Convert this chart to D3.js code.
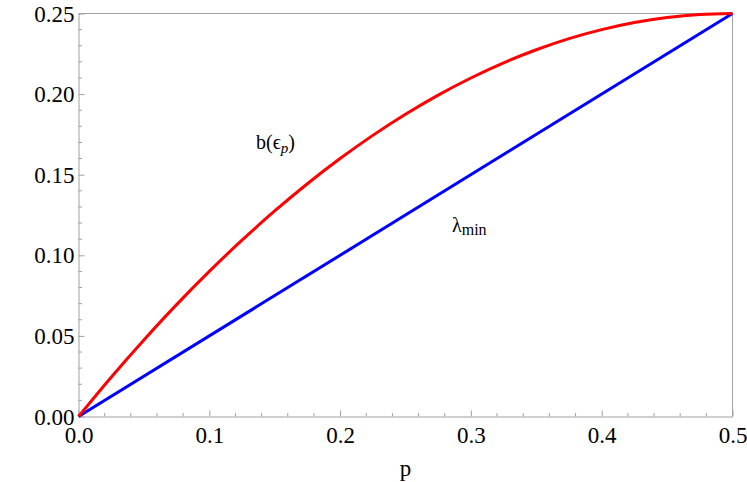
<!DOCTYPE html>
<html>
<head>
<meta charset="utf-8">
<script src="https://cdn.jsdelivr.net/npm/d3@7"></script>
<style>
  body { margin: 0; background: #fff; }
  svg { display: block; }
</style>
</head>
<body>
<svg width="747" height="482"></svg>
<script>
var svg = d3.select("svg"),
    width = +svg.attr("width"),
    height = +svg.attr("height");

// values
var pValues = [0, 0.025, 0.05, 0.075, 0.1, 0.125, 0.15, 0.175, 0.2, 0.225, 0.25,
               0.275, 0.3, 0.325, 0.35, 0.375, 0.4, 0.425, 0.45, 0.475, 0.5];
var bValues = [0, 0.0244, 0.0475, 0.0694, 0.09, 0.1094, 0.1275, 0.1444, 0.16, 0.1744, 0.1875,
               0.1994, 0.21, 0.2194, 0.2275, 0.2344, 0.24, 0.2444, 0.2475, 0.2494, 0.25];
var lambdaP = [0, 0.5];
var lambdaValues = [0, 0.25];

var xTicks = [0, 0.1, 0.2, 0.3, 0.4, 0.5];
var yTicks = [0, 0.05, 0.10, 0.15, 0.20, 0.25];

var serif = "'Liberation Serif', 'Times New Roman', serif";
var margin = {top: 13.5, right: 14.5, bottom: 65.5, left: 78.5};

var x = d3.scaleLinear().domain([0, 0.5]).range([margin.left, width - margin.right]);
var y = d3.scaleLinear().domain([0, 0.25]).range([height - margin.bottom, margin.top]);

var frameColor = "#a0a0a0";

// minor ticks
var xMinor = d3.range(0, 0.5001, 0.02).filter(function(v) { return Math.abs(v * 10 - Math.round(v * 10)) > 1e-6; });
var yMinor = d3.range(0, 0.2501, 0.01).filter(function(v) { return Math.abs(v * 20 - Math.round(v * 20)) > 1e-6; });

svg.append("g").selectAll("line").data(xMinor).enter().append("line")
    .attr("x1", function(d) { return x(d); }).attr("x2", function(d) { return x(d); })
    .attr("y1", y(0)).attr("y2", y(0) - 3.5)
    .attr("stroke", frameColor).attr("stroke-width", 1);

svg.append("g").selectAll("line").data(yMinor).enter().append("line")
    .attr("y1", function(d) { return y(d); }).attr("y2", function(d) { return y(d); })
    .attr("x1", x(0)).attr("x2", x(0) + 3.5)
    .attr("stroke", frameColor).attr("stroke-width", 1);

// bottom and left axes, major ticks pointing in
var xAxis = svg.append("g")
    .attr("transform", "translate(0," + y(0) + ")")
    .call(d3.axisBottom(x).tickValues(xTicks).tickFormat(d3.format(".1f")).tickSizeInner(-6).tickSizeOuter(0));

var yAxis = svg.append("g")
    .attr("transform", "translate(" + x(0) + ",0)")
    .call(d3.axisLeft(y).tickValues(yTicks).tickFormat(d3.format(".2f")).tickSizeInner(-6).tickSizeOuter(0));

svg.selectAll(".domain").attr("stroke", frameColor);
svg.selectAll(".tick line").attr("stroke", frameColor);
svg.selectAll(".tick text")
    .style("font-family", serif)
    .style("font-size", "23px")
    .attr("fill", "#000");
yAxis.selectAll(".tick text").attr("x", -4).attr("dy", "0.33em");
xAxis.selectAll(".tick text").attr("y", 26).attr("dy", 0);

// top and right frame
svg.append("line")
    .attr("x1", x(0)).attr("x2", x(0.5)).attr("y1", y(0.25)).attr("y2", y(0.25))
    .attr("stroke", frameColor);
svg.append("line")
    .attr("x1", x(0.5)).attr("x2", x(0.5)).attr("y1", y(0)).attr("y2", y(0.25))
    .attr("stroke", frameColor);

// curves
var line = d3.line()
    .x(function(d) { return x(d[0]); })
    .y(function(d) { return y(d[1]); })
    .curve(d3.curveCatmullRom);

svg.append("path")
    .datum(d3.zip(lambdaP, lambdaValues))
    .attr("d", line)
    .attr("fill", "none")
    .attr("stroke", "#0000ff")
    .attr("stroke-width", 3);

svg.append("path")
    .datum(d3.zip(pValues, bValues))
    .attr("d", line)
    .attr("fill", "none")
    .attr("stroke", "#ff0000")
    .attr("stroke-width", 3);

// axis label
svg.append("text")
    .attr("x", (x(0) + x(0.5)) / 2)
    .attr("y", 476)
    .attr("text-anchor", "middle")
    .style("font-family", serif)
    .style("font-size", "23px")
    .text("p");

// annotations
var bLabel = svg.append("text")
    .attr("x", 256)
    .attr("y", 149)
    .style("font-family", serif)
    .style("font-size", "20px");
bLabel.append("tspan").text("b(\u03F5");
bLabel.append("tspan").attr("dy", 4).style("font-style", "italic").style("font-size", "15px").text("p");
bLabel.append("tspan").attr("dy", -4).text(")");

var lLabel = svg.append("text")
    .attr("x", 452)
    .attr("y", 232)
    .style("font-family", serif)
    .style("font-size", "20px");
lLabel.append("tspan").text("\u03BB");
lLabel.append("tspan").attr("dy", 3).style("font-size", "16px").text("min");
</script>
</body>
</html>
